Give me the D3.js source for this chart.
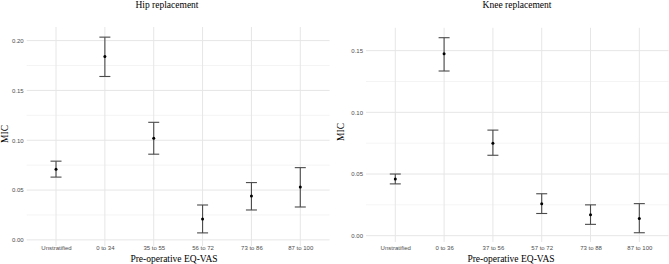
<!DOCTYPE html>
<html>
<head>
<meta charset="utf-8">
<script src="https://cdn.jsdelivr.net/npm/d3@7"></script>
<style>
  body { margin: 0; background: #fff; }
  svg { display: block; }
</style>
</head>
<body>
<svg id="drawing_region"></svg>
<script>
// Hip replacement
const hipCategories = ['Unstratified', '0 to 34', '35 to 55', '56 to 72', '73 to 86', '87 to 100'];
const hipMic   = [0.071, 0.184, 0.102, 0.021, 0.044, 0.053];
const hipLower = [0.063, 0.164, 0.086, 0.007, 0.030, 0.033];
const hipUpper = [0.079, 0.2035, 0.118, 0.035, 0.0575, 0.0725];
const hipTicks = [0, 0.05, 0.10, 0.15, 0.20];

// Knee replacement
const kneeCategories = ['Unstratified', '0 to 36', '37 to 56', '57 to 72', '73 to 88', '87 to 100'];
const kneeMic   = [0.046, 0.1475, 0.075, 0.026, 0.017, 0.014];
const kneeLower = [0.042, 0.1335, 0.0652, 0.018, 0.0092, 0.0024];
const kneeUpper = [0.050, 0.1605, 0.0856, 0.034, 0.025, 0.026];
const kneeTicks = [0, 0.05, 0.10, 0.15];

const svg = d3.select('#drawing_region').attr('width', 669).attr('height', 264);

function drawPanel(cfg) {
    const g = svg.append('g');
    const rows = cfg.categories.map((c, i) => ({label: c, mic: cfg.mic[i], lo: cfg.lower[i], hi: cfg.upper[i]}));

    const ymin = 0, ymax = d3.max(rows, d => d.hi);
    const pad = (ymax - ymin) * 0.05;
    const yscale = d3.scaleLinear()
        .domain([ymin - pad, ymax + pad])
        .range([cfg.bottom, cfg.top]);

    const xscale = d3.scalePoint()
        .domain(cfg.categories)
        .range([cfg.left, cfg.right])
        .padding(0.6);

    // minor gridlines
    const step = cfg.ticks[1] - cfg.ticks[0];
    const minors = [];
    for (let i = 0; i < cfg.ticks.length + 1; i++) {
        const v = cfg.ticks[0] - step / 2 + i * step;
        if (v > yscale.domain()[0] && v < yscale.domain()[1]) minors.push(v);
    }
    g.selectAll('line.minor').data(minors).enter().append('line')
        .attr('x1', cfg.left).attr('x2', cfg.right)
        .attr('y1', d => yscale(d)).attr('y2', d => yscale(d))
        .attr('stroke', '#ececec').attr('stroke-width', 0.6);

    // major gridlines
    g.selectAll('line.ymajor').data(cfg.ticks).enter().append('line')
        .attr('x1', cfg.left).attr('x2', cfg.right)
        .attr('y1', d => yscale(d)).attr('y2', d => yscale(d))
        .attr('stroke', '#e6e6e6').attr('stroke-width', 1);
    g.selectAll('line.xmajor').data(cfg.categories).enter().append('line')
        .attr('x1', d => xscale(d)).attr('x2', d => xscale(d))
        .attr('y1', cfg.top).attr('y2', cfg.gridBottom)
        .attr('stroke', '#e6e6e6').attr('stroke-width', 1);

    // axes (labels only)
    const font = 'Liberation Sans, Arial, sans-serif';
    const yaxis = d3.axisLeft(yscale).tickValues(cfg.ticks).tickFormat(d3.format('.2f')).tickSize(0).tickPadding(3);
    const yg = g.append('g').attr('transform', `translate(${cfg.left}, 0)`).call(yaxis);
    const xaxis = d3.axisBottom(xscale).tickSize(0).tickPadding(0);
    const xg = g.append('g').attr('transform', `translate(0, ${cfg.tickTop})`).call(xaxis);
    [yg, xg].forEach(a => {
        a.select('.domain').remove();
        a.selectAll('text').attr('fill', '#4d4d4d')
            .style('font-family', font).style('font-size', '6px');
    });

    // error bars
    const bars = g.selectAll('g.bar').data(rows).enter().append('g');
    bars.append('line')
        .attr('x1', d => xscale(d.label)).attr('x2', d => xscale(d.label))
        .attr('y1', d => yscale(d.lo)).attr('y2', d => yscale(d.hi))
        .attr('stroke', '#4a4a4a').attr('stroke-width', 1.1);
    ['lo', 'hi'].forEach(k => {
        bars.append('line')
            .attr('x1', d => xscale(d.label) - 5.5).attr('x2', d => xscale(d.label) + 5.5)
            .attr('y1', d => yscale(d[k])).attr('y2', d => yscale(d[k]))
            .attr('stroke', '#4a4a4a').attr('stroke-width', 1.1);
    });
    bars.append('circle')
        .attr('cx', d => xscale(d.label)).attr('cy', d => yscale(d.mic))
        .attr('r', 1.5).attr('fill', '#000');

    // titles
    const serif = 'Liberation Serif, Times New Roman, serif';
    g.append('text').attr('x', cfg.titleX).attr('y', 8).attr('text-anchor', 'middle')
        .style('font-family', serif).style('font-size', '9.5px').text(cfg.title);
    g.append('text').attr('x', cfg.xlabX).attr('y', 262).attr('text-anchor', 'middle')
        .style('font-family', serif).style('font-size', '9.5px').text('Pre-operative EQ-VAS');
    g.append('text').attr('transform', `translate(${cfg.ylabX}, ${cfg.ylabY}) rotate(-90)`)
        .attr('text-anchor', 'middle')
        .style('font-family', serif).style('font-size', '9.5px').text('MIC');
}

drawPanel({
    categories: hipCategories, mic: hipMic, lower: hipLower, upper: hipUpper, ticks: hipTicks,
    left: 26.7, right: 329.6, top: 27, bottom: 250, gridBottom: 246, tickTop: 245.5,
    title: 'Hip replacement', titleX: 167, xlabX: 174, ylabX: 8, ylabY: 134
});
drawPanel({
    categories: kneeCategories, mic: kneeMic, lower: kneeLower, upper: kneeUpper, ticks: kneeTicks,
    left: 366, right: 668.6, top: 27.8, bottom: 245.6, gridBottom: 242, tickTop: 245.5,
    title: 'Knee replacement', titleX: 517, xlabX: 511, ylabX: 344, ylabY: 132
});
</script>
</body>
</html>
